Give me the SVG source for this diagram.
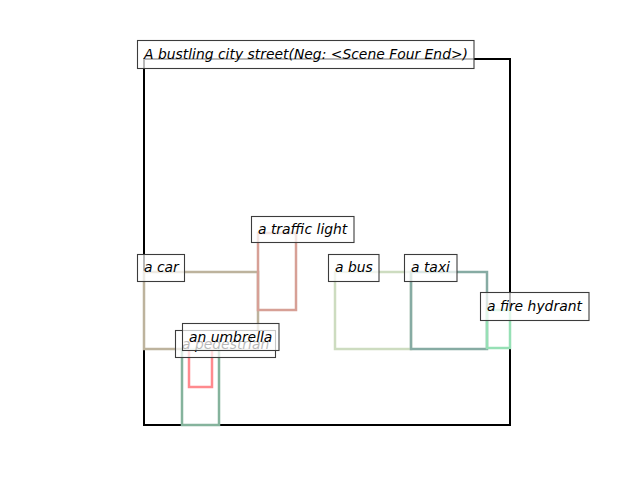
<svg xmlns="http://www.w3.org/2000/svg" width="640" height="480" viewBox="0 0 640 480">
<style>
.obj{fill:none;stroke-width:2.5}
.lb rect{fill:#ffffff;fill-opacity:0.72;stroke:#3c3c3c;stroke-width:1.1}
.lb text{font-family:"DejaVu Sans",sans-serif;font-style:oblique;font-size:13.9px;fill:#000}
</style>
<rect width="640" height="480" fill="#ffffff"/>
<g id="frame"><rect x="144" y="59" width="366" height="366" fill="none" stroke="#000" stroke-width="2"/></g>
<g id="objects">
<g id="car-box"><rect class="obj" x="144" y="272" width="114" height="77" stroke="#bdb39d"/></g>
<g id="traffic-light-box"><rect class="obj" x="258" y="233" width="38" height="77" stroke="#d7a096"/></g>
<g id="bus-box"><rect class="obj" x="335" y="272" width="76" height="77" stroke="#cddcc0"/></g>
<g id="taxi-box"><rect class="obj" x="411" y="272" width="76" height="77" stroke="#86aba3"/></g>
<g id="hydrant-box"><rect class="obj" x="487" y="310" width="23" height="38" stroke="#96e0b5"/></g>
<g id="pedestrian-box"><rect class="obj" x="182" y="349" width="37" height="76" stroke="#85b39c"/></g>
<g id="umbrella-box"><rect class="obj" x="189" y="342" width="23" height="45" stroke="#ff8a8e"/></g>
</g>
<g id="labels">
<g id="car" class="lb"><rect x="137.5" y="254.5" width="47" height="27"/><text x="144" y="272">a car</text></g>
<g id="traffic-light" class="lb"><rect x="251.5" y="216.5" width="102.5" height="26"/><text x="258" y="234">a traffic light</text></g>
<g id="bus" class="lb"><rect x="328.5" y="254.5" width="50.5" height="27"/><text x="335" y="272">a bus</text></g>
<g id="taxi" class="lb"><rect x="404.5" y="254.5" width="52.5" height="27"/><text x="411" y="272">a taxi</text></g>
<g id="fire-hydrant" class="lb"><rect x="480.5" y="292.5" width="108.5" height="28"/><text x="487" y="311">a fire hydrant</text></g>
<g id="pedestrian" class="lb"><rect x="175.5" y="330.5" width="100" height="27"/><text x="182" y="349">a pedestrian</text></g>
<g id="umbrella" class="lb"><rect x="182.5" y="323.5" width="96.5" height="27"/><text x="189" y="342">an umbrella</text></g>
<g id="title" class="lb"><rect x="137.5" y="40.5" width="336.5" height="28"/><text x="144" y="59">A bustling city street(Neg: &lt;Scene Four End&gt;)</text></g>
</g>
</svg>
